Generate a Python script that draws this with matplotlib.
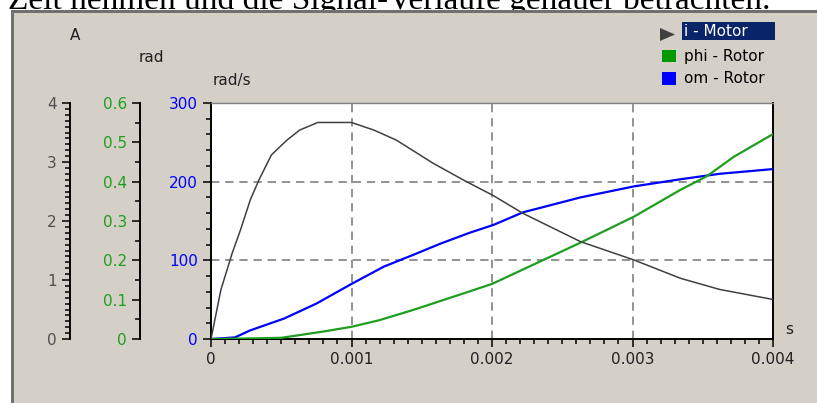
import matplotlib
matplotlib.use("Agg")
import matplotlib.pyplot as plt
from matplotlib.patches import Rectangle, Polygon
from matplotlib.ticker import MultipleLocator

W, H = 817, 403

# ---------------- data ----------------
t_i = [0, 0.00007, 0.00015, 0.00021, 0.00028, 0.00034, 0.00043, 0.00054, 0.00063,
       0.00076, 0.0010, 0.00116, 0.00132, 0.00158, 0.00180, 0.00201, 0.00222,
       0.00263, 0.00301, 0.00334, 0.00362, 0.0040]
i_motor = [0, 0.83, 1.45, 1.85, 2.36, 2.69, 3.12, 3.37, 3.54, 3.67, 3.67, 3.54,
           3.37, 2.98, 2.69, 2.43, 2.13, 1.65, 1.34, 1.03, 0.84, 0.67]

t_phi = [0, 0.0002, 0.0005, 0.0008, 0.0010, 0.0012, 0.00144, 0.00173, 0.0020,
         0.00239, 0.00263, 0.00301, 0.00334, 0.00353, 0.00372, 0.0040]
phi_rotor = [0, 0.001, 0.003, 0.019, 0.031, 0.048, 0.074, 0.108, 0.14, 0.205,
             0.245, 0.311, 0.379, 0.414, 0.463, 0.521]

t_om = [0, 0.00017, 0.00028, 0.00052, 0.00075, 0.0010, 0.00123, 0.00144, 0.00163,
        0.00184, 0.00201, 0.00222, 0.00263, 0.00301, 0.00334, 0.00362, 0.0040]
om_rotor = [0, 2, 11, 26, 45, 70, 92, 107, 121, 135, 145, 161, 180, 194, 203, 210, 216]

x_ticks = [0, 0.001, 0.002, 0.003, 0.004]
x_tick_labels = ["0", "0.001", "0.002", "0.003", "0.004"]
om_ticks = [0, 100, 200, 300]
phi_ticks = [0, 0.1, 0.2, 0.3, 0.4, 0.5, 0.6]
phi_tick_labels = ["0", "0.1", "0.2", "0.3", "0.4", "0.5", "0.6"]
i_ticks = [0, 1, 2, 3, 4]
legend_labels = ["i - Motor", "phi - Rotor", "om - Rotor"]
header = "Zeit nehmen und die Signal-Verläufe genauer betrachten."

# ---------------- style ----------------
PANEL = "#D4D0C8"
C_I = "#404040"
C_PHI = "#1E9E1E"
C_OM = "#0000FF"
FS = 11
MAJ, MIN, PAD = 6, 3.6, 3.5
plt.rcParams["font.family"] = ["DejaVu Sans"]


def fx(x):
    return x / W


def fy(y):
    return 1 - y / H


fig = plt.figure(figsize=(W / 100, H / 100), dpi=100, facecolor="white")

# header text (cut at top, partially hidden by panel)
fig.text(fx(8), fy(9), header, family="Liberation Serif", fontsize=24,
         va="baseline", ha="left", color="black", zorder=-3)

# window panel
fig.patches.append(Rectangle((fx(11), 0), 1 - fx(11), fy(10), transform=fig.transFigure,
                             facecolor="#707070", edgecolor="none", zorder=-2))
fig.patches.append(Rectangle((fx(14), 0), 1 - fx(14), fy(13), transform=fig.transFigure,
                             facecolor=PANEL, edgecolor="none", zorder=-1))

# axes geometry
L, R, T, B = 211, 773, 103, 339
pos = [fx(L), fy(B), fx(R) - fx(L), fy(T) - fy(B)]

ax = fig.add_axes(pos, facecolor="white")
ax.set_xlim(0, 0.004)
ax.set_ylim(0, 300)
for s in ["left", "bottom", "right"]:
    ax.spines[s].set_color("black")
    ax.spines[s].set_linewidth(1.4)
ax.spines["top"].set_color("#808080")
ax.spines["top"].set_linewidth(1.0)
ax.set_xticks(x_ticks)
ax.set_xticklabels(x_tick_labels)
ax.xaxis.set_minor_locator(MultipleLocator(0.0001))
ax.set_yticks(om_ticks)
ax.yaxis.set_minor_locator(MultipleLocator(20))
ax.tick_params(axis="both", which="major", direction="out", length=MAJ, width=1.1,
               labelsize=FS, pad=PAD)
ax.tick_params(axis="both", which="minor", direction="out", length=MIN, width=1.1)
ax.tick_params(axis="y", labelcolor=C_OM)
ax.tick_params(axis="x", labelcolor="#202020")
for v in x_ticks[1:-1]:
    ax.axvline(v, color="#808080", lw=1.2, ls=(0, (5, 3.5)), zorder=1)
for v in om_ticks[1:-1]:
    ax.axhline(v, color="#808080", lw=1.2, ls=(0, (5, 3.5)), zorder=1)
ax.plot(t_om, om_rotor, color=C_OM, lw=1.6, zorder=3)


def side_axis(offset_px, ylim, ticks, labels, minor, color):
    a = fig.add_axes(pos, facecolor="none")
    a.patch.set_visible(False)
    a.set_xlim(0, 0.004)
    a.set_ylim(*ylim)
    for s in ["top", "right", "bottom"]:
        a.spines[s].set_visible(False)
    a.spines["left"].set_position(("axes", (offset_px - L) / (R - L)))
    a.spines["left"].set_linewidth(1.4)
    a.set_xticks([])
    a.set_yticks(ticks)
    a.set_yticklabels(labels)
    a.yaxis.set_minor_locator(MultipleLocator(minor))
    a.tick_params(axis="y", which="major", direction="out", length=MAJ, width=1.1,
                  labelsize=FS, labelcolor=color, pad=PAD)
    a.tick_params(axis="y", which="minor", direction="out", length=MIN, width=1.1)
    return a


ax_phi = side_axis(140, (0, 0.6), phi_ticks, phi_tick_labels, 0.05, C_PHI)
ax_phi.plot(t_phi, phi_rotor, color=C_PHI, lw=1.6, zorder=3)

ax_i = side_axis(70, (0, 4), i_ticks, [str(v) for v in i_ticks], 0.1, "#505050")
ax_i.plot(t_i, i_motor, color=C_I, lw=1.1, zorder=3)

# unit labels
fig.text(fx(75), fy(36), "A", fontsize=FS, ha="center", va="center", color="#202020")
fig.text(fx(151), fy(58), "rad", fontsize=FS, ha="center", va="center", color="#202020")
fig.text(fx(232), fy(80), "rad/s", fontsize=FS, ha="center", va="center", color="#202020")
fig.text(fx(789), fy(330), "s", fontsize=FS, ha="center", va="center", color="#202020")

# legend
fig.patches.append(Polygon([(fx(660), fy(28)), (fx(660), fy(41)), (fx(675), fy(34.5))],
                           closed=True, transform=fig.transFigure, facecolor=C_I,
                           edgecolor="none"))
fig.patches.append(Rectangle((fx(682), fy(40)), fx(775) - fx(682), fy(22) - fy(40),
                             transform=fig.transFigure, facecolor="#0A246A",
                             edgecolor="none"))
fig.patches.append(Rectangle((fx(662), fy(62)), fx(676) - fx(662), fy(50) - fy(62),
                             transform=fig.transFigure, facecolor="#009A00",
                             edgecolor="none"))
fig.patches.append(Rectangle((fx(662), fy(85)), fx(676) - fx(662), fy(72) - fy(85),
                             transform=fig.transFigure, facecolor=C_OM,
                             edgecolor="none"))
fig.text(fx(684), fy(31), legend_labels[0], fontsize=FS, ha="left", va="center", color="white")
fig.text(fx(684), fy(56.5), legend_labels[1], fontsize=FS, ha="left", va="center", color="black")
fig.text(fx(684), fy(78.5), legend_labels[2], fontsize=FS, ha="left", va="center", color="black")

fig.savefig("out.png", dpi=100, facecolor="white")
